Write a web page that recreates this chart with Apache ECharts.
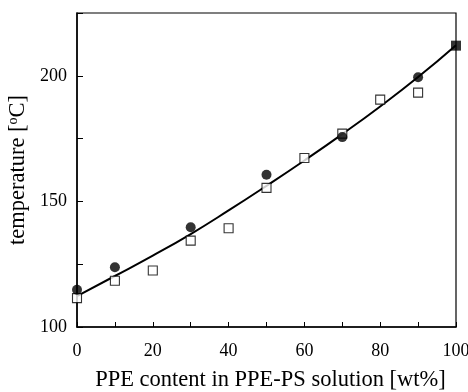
<!DOCTYPE html>
<html>
<head>
<meta charset="utf-8">
<style>
  html, body { margin: 0; padding: 0; background: #fff; }
  #chart { width: 468px; height: 392px; }
</style>
<script src="https://cdn.jsdelivr.net/npm/echarts@6/dist/echarts.min.js"></script>
</head>
<body>
<div id="chart"></div>
<script>
// PPE content in the PPE-PS solution [wt%]
const circleX = [0, 10, 30, 50, 70, 90];
const circleT = [114.8, 123.8, 139.7, 160.6, 175.6, 199.4];

const squareX = [0, 10, 20, 30, 40, 50, 60, 70, 80, 90];
const squareT = [111.5, 118.4, 122.5, 134.4, 139.3, 155.4, 167.3, 177.0, 190.5, 193.3];

// pure PPE (100 wt%)
const endX = [100];
const endT = [212.0];

// smooth trend curve
const curveX = [0, 10, 20, 30, 40, 50, 60, 70, 80, 90, 100];
const curveT = [112.3, 120.3, 128.4, 137.0, 146.4, 156.2, 166.3, 176.8, 187.8, 199.5, 212.2];

const xTicks = [0, 20, 40, 60, 80, 100];
const yTicks = [100, 150, 200];

const zip = (xs, ys) => xs.map((x, i) => [x, ys[i]]);
const FONT = '"Liberation Serif", "Times New Roman", serif';

const chart = echarts.init(document.getElementById('chart'), null, { renderer: 'canvas' });
chart.setOption({
  animation: false,
  backgroundColor: '#fff',
  grid: {
    left: 77, right: 12, top: 13, bottom: 65,
    outerBoundsMode: 'none', containLabel: false,
    show: true, borderColor: '#000', borderWidth: 1.2, backgroundColor: 'transparent'
  },
  xAxis: {
    type: 'value', min: 0, max: 100, interval: 10,
    name: 'PPE content in PPE-PS solution [wt%]',
    nameLocation: 'middle', nameGap: 42,
    nameTextStyle: { fontFamily: FONT, fontSize: 22.5, color: '#000', padding: [0, 0, 0, 8] },
    axisLine: { show: true, lineStyle: { color: '#000', width: 1.5 } },
    axisTick: { show: true, inside: true, length: 5, lineStyle: { color: '#000' } },
    axisLabel: {
      margin: 15, fontFamily: FONT, fontSize: 18, color: '#000',
      formatter: v => xTicks.includes(v) ? String(v) : ''
    },
    splitLine: { show: false }
  },
  yAxis: {
    type: 'value', min: 100, max: 225, interval: 25,
    name: 'temperature [{sup|o}C]',
    nameLocation: 'middle', nameGap: 42, nameRotate: 90,
    nameTextStyle: {
      fontFamily: FONT, fontSize: 22.5, color: '#000',
      rich: { sup: { fontFamily: FONT, fontSize: 14, color: '#000', verticalAlign: 'top', padding: [0, 0, 7, 0] } }
    },
    axisLine: { show: true, lineStyle: { color: '#000', width: 1.5 } },
    axisTick: { show: true, inside: true, length: 6, lineStyle: { color: '#000' } },
    axisLabel: {
      margin: 10, fontFamily: FONT, fontSize: 18, color: '#000',
      formatter: v => yTicks.includes(v) ? String(v) : ''
    },
    splitLine: { show: false }
  },
  series: [
    {
      type: 'line', data: zip(curveX, curveT), smooth: true,
      showSymbol: false, lineStyle: { color: '#000', width: 2 }, z: 2
    },
    {
      type: 'scatter', data: zip(squareX, squareT), symbol: 'rect', symbolSize: 9,
      itemStyle: { color: '#fff', borderColor: '#000', borderWidth: 1.1 }, z: 3
    },
    {
      type: 'scatter', data: zip(circleX, circleT), symbol: 'circle', symbolSize: 10,
      itemStyle: { color: '#000' }, z: 4
    },
    {
      type: 'scatter', data: zip(endX, endT), symbol: 'rect', symbolSize: 10,
      itemStyle: { color: '#000' }, z: 4, clip: false
    }
  ]
});
</script>
</body>
</html>
